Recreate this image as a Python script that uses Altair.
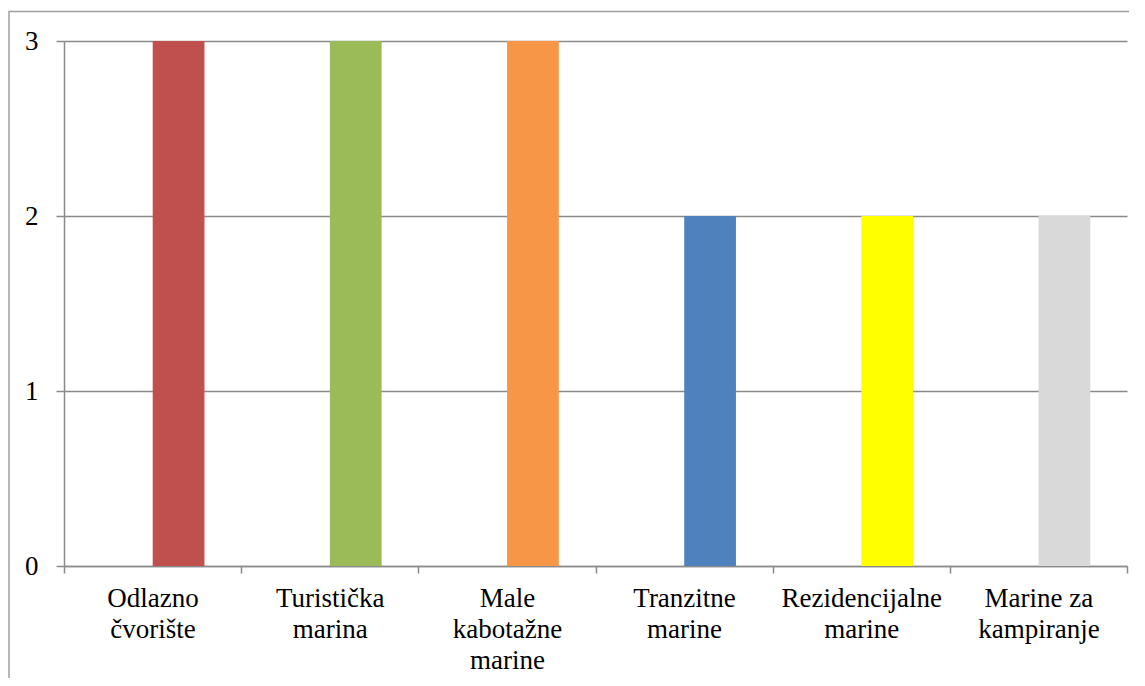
import json
import altair as alt
import pandas as pd

categories = ["Odlazno čvorište", "Turistička marina", "Male kabotažne marine",
              "Tranzitne marine", "Rezidencijalne marine", "Marine za kampiranje"]
label_lines = [["Odlazno", "čvorište"], ["Turistička", "marina"], ["Male", "kabotažne", "marine"],
               ["Tranzitne", "marine"], ["Rezidencijalne", "marine"], ["Marine za", "kampiranje"]]
values = [3, 3, 3, 2, 2, 2]
colors = ["#C0504D", "#9BBB59", "#F79646", "#4F81BD", "#FFFF00", "#D9D9D9"]
y_ticks = [0, 1, 2, 3]

df = pd.DataFrame({"category": categories, "value": values})
label_map = json.dumps(dict(zip(categories, label_lines)), ensure_ascii=False)

FONT = "Liberation Serif"
GRID = "#8a8a8a"

bars = alt.Chart(df).mark_bar(width=alt.RelativeBandSize(0.292), xOffset=26).encode(
    x=alt.X("category:N", sort=categories,
            scale=alt.Scale(paddingInner=0, paddingOuter=0),
            axis=alt.Axis(title=None, labelAngle=0, tickBand="extent", domainColor=GRID,
                          tickColor=GRID, tickSize=7, tickWidth=1.5, domainWidth=1.5,
                          labelExpr=f"{label_map}[datum.value]",
                          labelFont=FONT, labelFontSize=27, labelColor="black",
                          labelLineHeight=31, labelPadding=12, grid=False)),
    y=alt.Y("value:Q", scale=alt.Scale(domain=[0, 3], nice=False),
            axis=alt.Axis(title=None, values=y_ticks, format="d", grid=True, gridColor=GRID,
                          gridWidth=1.5, domainColor=GRID, domainWidth=1.5, tickColor=GRID,
                          tickWidth=1.5, tickSize=8, labelFont=FONT, labelFontSize=27,
                          labelColor="black", labelPadding=18)),
    color=alt.Color("category:N", scale=alt.Scale(domain=categories, range=colors), legend=None),
)

border = alt.Chart(pd.DataFrame({"b": [0]})).mark_rect(
    fill=None, stroke="#a0a0a0", strokeWidth=1.5
).encode(x=alt.value(-55), x2=alt.value(1300), y=alt.value(-29.5), y2=alt.value(900))

chart = alt.layer(border, bars).properties(
    width=1063, height=525,
    padding={"left": 56, "top": 33, "right": 2, "bottom": 112},
    autosize=alt.AutoSizeParams(type="none"),
).configure_view(stroke=None)

chart.save("out.html", embed_options={"renderer": "svg", "actions": False})
